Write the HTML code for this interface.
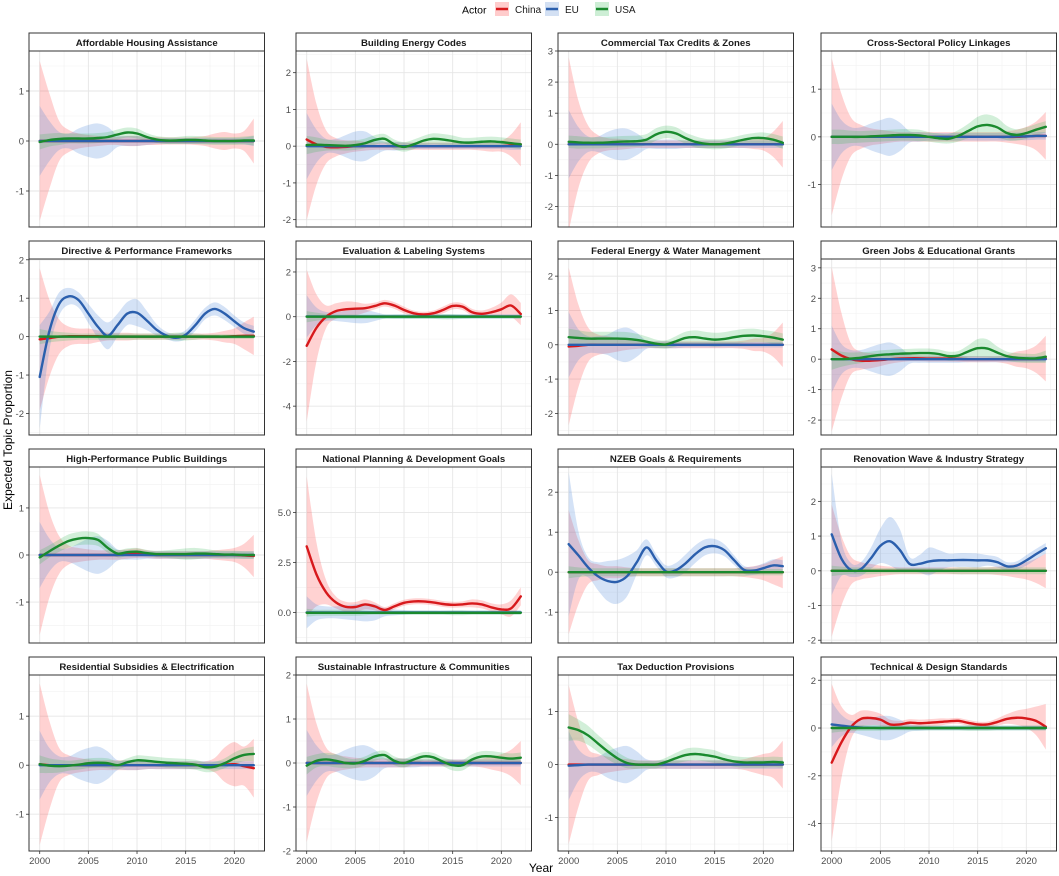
<!DOCTYPE html>
<html><head><meta charset="utf-8"><title>Expected Topic Proportion by Actor</title>
<style>
html,body{margin:0;padding:0;background:#fff;}
svg{display:block;font-family:"Liberation Sans",Arial,sans-serif;}
</style></head>
<body>
<svg id="chart" width="1059" height="876" viewBox="0 0 1059 876" xmlns="http://www.w3.org/2000/svg">
  <g>
    <text x="462" y="13.5" font-size="10.5" fill="#000">Actor</text>
    <g>
      <rect x="495" y="2" width="14" height="14" fill="#ffcccc"/>
      <line x1="496" y1="9" x2="508" y2="9" stroke="#d7191c" stroke-width="2.5"/>
      <text x="515" y="13" font-size="10" fill="#1a1a1a">China</text>
    </g>
    <g>
      <rect x="545" y="2" width="14" height="14" fill="#d3e0f3"/>
      <line x1="546" y1="9" x2="558" y2="9" stroke="#2b5fad" stroke-width="2.5"/>
      <text x="565" y="13" font-size="10" fill="#1a1a1a">EU</text>
    </g>
    <g>
      <rect x="595" y="2" width="14" height="14" fill="#cdeed5"/>
      <line x1="596" y1="9" x2="608" y2="9" stroke="#1a8a2e" stroke-width="2.5"/>
      <text x="615" y="13" font-size="10" fill="#1a1a1a">USA</text>
    </g>
  </g>
  <text x="0" y="0" font-size="12" fill="#000" text-anchor="middle" transform="translate(12,440) rotate(-90)">Expected Topic Proportion</text>
  <text x="541" y="872" font-size="12" fill="#000" text-anchor="middle">Year</text>
  <g id="panels"></g>
</svg>
<script>
const years = [2000,2001,2002,2003,2004,2005,2006,2007,2008,2009,2010,2011,2012,2013,2014,2015,2016,2017,2018,2019,2020,2021,2022];
const xTicks = [2000,2005,2010,2015,2020];
const titles = ["Affordable Housing Assistance","Building Energy Codes","Commercial Tax Credits & Zones","Cross-Sectoral Policy Linkages","Directive & Performance Frameworks","Evaluation & Labeling Systems","Federal Energy & Water Management","Green Jobs & Educational Grants","High-Performance Public Buildings","National Planning & Development Goals","NZEB Goals & Requirements","Renovation Wave & Industry Strategy","Residential Subsidies & Electrification","Sustainable Infrastructure & Communities","Tax Deduction Provisions","Technical & Design Standards"];
const yMin = [-1.72,-2.2,-2.66,-1.89,-2.56,-5.29,-2.63,-2.49,-1.87,-1.53,-1.77,-2.08,-1.75,-2.0,-1.63,-5.15];
const yMax = [1.8,2.59,3.0,1.8,2.02,2.58,2.5,3.29,1.87,7.27,2.63,2.99,1.84,2.0,1.69,2.22];
const yTicks = [[-1,0,1],[-2,-1,0,1,2],[-2,-1,0,1,2,3],[-1,0,1],[-2,-1,0,1,2],[-4,-2,0,2],[-2,-1,0,1,2],[-2,-1,0,1,2,3],[-1,0,1],[0,2.5,5],[-1,0,1,2],[-2,-1,0,1,2],[-1,0,1],[-2,-1,0,1,2],[-1,0,1],[-4,-2,0,2]];
const yTickLabels = [["-1","0","1"],["-2","-1","0","1","2"],["-2","-1","0","1","2","3"],["-1","0","1"],["-2","-1","0","1","2"],["-4","-2","0","2"],["-2","-1","0","1","2"],["-2","-1","0","1","2","3"],["-1","0","1"],["0.0","2.5","5.0"],["-1","0","1","2"],["-2","-1","0","1","2"],["-1","0","1"],["-2","-1","0","1","2"],["-1","0","1"],["-4","-2","0","2"]];

const Z = [0,0,0,0,0,0,0,0,0,0,0,0,0,0,0,0,0,0,0,0,0,0,0];
const chinaMean = [
 Z,
 [0.18,0.05,-0.02,-0.03,-0.02,0,0,0,0,0,0,0,0,0,0,0,0,0,0,0,0,0.02,0.05],
 Z,
 [0,0,0,0,0,0,0,0,0,0,0,0,0,0,0,0,0,0,0,0,0.01,0.02,0.02],
 [-0.07,-0.04,0,0.01,0.01,0.01,0.01,0,0,0,0,0,0,0,0,0,0,0,0,0,0.01,0.02,0.02],
 [-1.3,-0.5,0.0,0.25,0.33,0.36,0.38,0.48,0.6,0.5,0.3,0.15,0.1,0.15,0.3,0.48,0.45,0.2,0.13,0.2,0.33,0.5,0.12],
 [-0.05,-0.03,0,0,0,0,0,0,0,0,0,0,0,0,0,0,0,0,0,0,0,0,0],
 [0.32,0.12,0.0,-0.05,-0.05,-0.03,0,0.02,0.03,0.03,0.02,0.02,0.02,0.01,0,0,0,0,0,0,0,0,0.02],
 [0,0,0,0,0,0,0,0,0,0.02,0.04,0.02,0,0,0,0,0,0,0,0,0,-0.01,-0.02],
 [3.3,1.9,1.0,0.5,0.28,0.27,0.4,0.3,0.12,0.3,0.48,0.55,0.55,0.5,0.42,0.38,0.4,0.45,0.4,0.25,0.15,0.2,0.8],
 Z,
 Z,
 [0.02,0,0,0,0,0,0,0,0,0,0,0,0,0,0,0,0,0,0,0.01,0.02,-0.02,-0.06],
 Z,
 Z,
 [-1.45,-0.6,0.05,0.38,0.42,0.35,0.15,0.15,0.22,0.2,0.22,0.25,0.28,0.3,0.22,0.15,0.15,0.25,0.38,0.43,0.4,0.3,0.05]
];
const euMean = [
 Z, Z, Z,
 [0,0,0,0,0,0,0,0,0,0,0,0,0,0,0,0,0,0,0,0.01,0.01,0.02,0.02],
 [-1.05,0.15,0.85,1.05,0.95,0.6,0.25,0.02,0.3,0.6,0.62,0.42,0.18,0.03,-0.03,0.05,0.3,0.6,0.72,0.6,0.4,0.22,0.13],
 [0.01,0.01,0.01,0.01,0.01,0.01,0.01,0.01,0.01,0.01,0.01,0.01,0.01,0.01,0.01,0.01,0.01,0.01,0.01,0.01,0.01,0.01,0.01],
 Z, Z, Z, Z,
 [0.7,0.42,0.12,-0.1,-0.22,-0.24,-0.1,0.25,0.62,0.3,0.02,0.05,0.22,0.45,0.62,0.65,0.55,0.3,0.06,0.04,0.1,0.17,0.15],
 [1.05,0.35,0.02,0.05,0.35,0.72,0.85,0.6,0.2,0.2,0.27,0.3,0.3,0.31,0.31,0.3,0.3,0.25,0.13,0.15,0.3,0.48,0.65],
 Z, Z,
 [-0.02,-0.01,0,0,0,0,0,0,0,0,0,0,0,0,0,0,0,0,0,0,0,0,0],
 [0.15,0.1,0.05,0.02,0.01,0,0,0,0,0,0,0,0,0,0,0,0,0,0,0,0,0,0]
];
const usaMean = [
 [-0.02,0.02,0.04,0.05,0.05,0.05,0.06,0.08,0.13,0.17,0.15,0.08,0.03,0.01,0.01,0.02,0.02,0.01,0.0,0.0,0.0,0.01,0.01],
 [0.03,0.04,0.03,0.02,0.01,0.03,0.08,0.17,0.2,0.05,-0.02,0.05,0.15,0.2,0.18,0.14,0.1,0.1,0.12,0.13,0.11,0.08,0.05],
 [0.08,0.06,0.05,0.05,0.06,0.08,0.09,0.1,0.15,0.32,0.4,0.35,0.2,0.08,0.02,0.0,0.02,0.08,0.15,0.2,0.2,0.15,0.05],
 [0,0,0,0,0.01,0.02,0.03,0.04,0.04,0.03,0.0,-0.03,-0.04,0.02,0.12,0.22,0.25,0.2,0.08,0.04,0.08,0.15,0.21],
 Z, Z,
 [0.22,0.2,0.18,0.18,0.18,0.18,0.17,0.14,0.09,0.03,0.01,0.1,0.2,0.22,0.18,0.15,0.17,0.22,0.26,0.27,0.25,0.21,0.15],
 [0,0,0.02,0.05,0.1,0.14,0.16,0.18,0.19,0.2,0.2,0.17,0.1,0.12,0.25,0.36,0.35,0.22,0.1,0.05,0.03,0.03,0.08],
 [-0.05,0.08,0.2,0.3,0.35,0.36,0.32,0.15,0.03,0.06,0.07,0.04,0.02,0.02,0.02,0.02,0.03,0.03,0.02,0.01,0.01,0,0],
 [-0.02,-0.02,-0.02,-0.02,-0.02,-0.02,-0.02,-0.02,-0.02,-0.02,-0.02,-0.02,-0.02,-0.02,-0.02,-0.02,-0.02,-0.02,-0.02,-0.02,-0.02,-0.02,-0.02],
 Z, Z,
 [0.02,-0.01,-0.02,-0.01,0.01,0.04,0.05,0.04,0.0,0.06,0.1,0.09,0.07,0.05,0.04,0.03,0.01,-0.04,-0.03,0.04,0.14,0.21,0.23],
 [-0.06,0.05,0.08,0.05,0.0,-0.01,0.05,0.15,0.18,0.05,0.0,0.08,0.15,0.13,0.03,-0.05,-0.05,0.08,0.15,0.15,0.12,0.1,0.12],
 [0.7,0.65,0.55,0.4,0.25,0.12,0.03,0.0,0.0,0.0,0.05,0.12,0.18,0.2,0.18,0.15,0.1,0.06,0.04,0.04,0.04,0.05,0.04],
 Z
];
const chinaCI = [
 [1.6,0.95,0.4,0.22,0.15,0.12,0.1,0.08,0.08,0.1,0.1,0.08,0.08,0.07,0.07,0.07,0.08,0.1,0.15,0.18,0.15,0.2,0.45],
 [2.2,1.1,0.45,0.25,0.18,0.15,0.12,0.1,0.1,0.1,0.1,0.1,0.1,0.1,0.1,0.1,0.1,0.1,0.12,0.15,0.15,0.3,0.6],
 [2.8,1.4,0.6,0.3,0.2,0.18,0.15,0.12,0.12,0.12,0.12,0.12,0.12,0.12,0.12,0.12,0.12,0.12,0.12,0.15,0.2,0.4,0.75],
 [1.65,0.9,0.4,0.25,0.18,0.15,0.12,0.1,0.1,0.1,0.1,0.1,0.1,0.1,0.1,0.1,0.1,0.1,0.12,0.15,0.2,0.3,0.5],
 [1.85,1.0,0.45,0.25,0.2,0.2,0.15,0.1,0.1,0.1,0.08,0.08,0.08,0.08,0.08,0.08,0.08,0.08,0.1,0.15,0.2,0.35,0.5],
 [3.4,1.5,0.5,0.35,0.35,0.3,0.2,0.15,0.15,0.15,0.15,0.12,0.12,0.12,0.15,0.15,0.15,0.15,0.15,0.2,0.3,0.5,0.5],
 [2.3,1.2,0.5,0.3,0.25,0.2,0.15,0.12,0.1,0.1,0.1,0.1,0.1,0.1,0.1,0.1,0.1,0.1,0.12,0.18,0.2,0.35,0.65],
 [2.7,1.4,0.5,0.3,0.25,0.2,0.15,0.12,0.1,0.1,0.1,0.1,0.1,0.1,0.1,0.1,0.1,0.1,0.15,0.25,0.3,0.45,0.75],
 [1.7,0.9,0.4,0.2,0.15,0.12,0.1,0.1,0.1,0.1,0.1,0.08,0.08,0.08,0.08,0.08,0.08,0.08,0.1,0.12,0.15,0.25,0.45],
 [3.5,1.6,0.6,0.3,0.25,0.25,0.25,0.2,0.15,0.15,0.15,0.15,0.15,0.15,0.15,0.15,0.15,0.2,0.2,0.2,0.25,0.4,0.45],
 [1.55,0.8,0.3,0.2,0.15,0.15,0.12,0.1,0.1,0.1,0.1,0.1,0.1,0.1,0.1,0.1,0.1,0.1,0.12,0.15,0.2,0.3,0.4],
 [1.9,1.0,0.4,0.25,0.2,0.15,0.12,0.1,0.1,0.1,0.1,0.1,0.1,0.1,0.1,0.1,0.1,0.12,0.15,0.2,0.25,0.35,0.5],
 [1.65,0.9,0.35,0.2,0.15,0.12,0.1,0.1,0.1,0.1,0.1,0.08,0.08,0.08,0.08,0.08,0.08,0.08,0.15,0.35,0.45,0.4,0.6],
 [1.8,0.9,0.35,0.2,0.15,0.12,0.1,0.1,0.1,0.1,0.1,0.08,0.08,0.08,0.08,0.08,0.08,0.08,0.1,0.15,0.2,0.3,0.5],
 [1.5,0.8,0.3,0.2,0.15,0.12,0.1,0.08,0.08,0.08,0.08,0.08,0.08,0.08,0.08,0.08,0.08,0.08,0.1,0.15,0.2,0.25,0.45],
 [3.3,1.5,0.5,0.35,0.3,0.25,0.2,0.15,0.15,0.15,0.15,0.15,0.12,0.12,0.12,0.12,0.12,0.15,0.2,0.3,0.4,0.6,0.95]
];
const euCI = [
 [0.7,0.4,0.18,0.15,0.25,0.32,0.35,0.28,0.12,0.1,0.1,0.08,0.06,0.06,0.06,0.06,0.06,0.06,0.06,0.06,0.06,0.07,0.1],
 [0.9,0.45,0.2,0.2,0.3,0.4,0.4,0.25,0.12,0.12,0.1,0.08,0.08,0.08,0.08,0.08,0.08,0.08,0.08,0.08,0.08,0.1,0.1],
 [1.1,0.55,0.25,0.25,0.4,0.5,0.5,0.35,0.15,0.15,0.15,0.15,0.12,0.12,0.12,0.12,0.12,0.12,0.12,0.12,0.12,0.12,0.12],
 [0.7,0.35,0.2,0.2,0.28,0.35,0.4,0.3,0.12,0.1,0.08,0.08,0.08,0.08,0.08,0.08,0.08,0.08,0.08,0.08,0.08,0.08,0.08],
 [1.35,0.5,0.3,0.22,0.2,0.25,0.3,0.35,0.3,0.3,0.35,0.25,0.15,0.1,0.1,0.12,0.15,0.15,0.17,0.17,0.15,0.15,0.15],
 [0.95,0.4,0.2,0.2,0.25,0.3,0.3,0.2,0.1,0.1,0.1,0.1,0.1,0.1,0.1,0.1,0.1,0.1,0.1,0.1,0.1,0.1,0.1],
 [0.95,0.45,0.25,0.25,0.3,0.45,0.5,0.35,0.12,0.1,0.1,0.1,0.08,0.08,0.08,0.08,0.08,0.08,0.08,0.08,0.08,0.08,0.08],
 [1.1,0.5,0.3,0.3,0.4,0.5,0.55,0.4,0.15,0.12,0.12,0.12,0.12,0.12,0.1,0.1,0.1,0.1,0.1,0.1,0.1,0.1,0.1],
 [0.7,0.35,0.15,0.15,0.25,0.35,0.4,0.3,0.12,0.1,0.1,0.08,0.08,0.08,0.08,0.08,0.08,0.08,0.08,0.08,0.08,0.08,0.08],
 [0.8,0.4,0.3,0.3,0.35,0.4,0.45,0.4,0.2,0.15,0.12,0.1,0.1,0.1,0.1,0.1,0.1,0.1,0.1,0.1,0.1,0.1,0.1],
 [1.8,0.6,0.25,0.35,0.5,0.55,0.5,0.3,0.2,0.15,0.15,0.18,0.22,0.22,0.2,0.18,0.15,0.12,0.1,0.1,0.12,0.15,0.15],
 [1.75,0.5,0.2,0.2,0.3,0.5,0.7,0.6,0.2,0.25,0.4,0.3,0.2,0.2,0.2,0.2,0.15,0.15,0.12,0.12,0.15,0.15,0.15],
 [0.7,0.35,0.18,0.18,0.28,0.35,0.38,0.28,0.1,0.1,0.1,0.08,0.08,0.08,0.08,0.08,0.08,0.08,0.08,0.08,0.08,0.08,0.08],
 [0.75,0.4,0.2,0.2,0.3,0.38,0.4,0.3,0.12,0.1,0.1,0.1,0.08,0.08,0.08,0.08,0.08,0.08,0.08,0.08,0.08,0.08,0.08],
 [0.65,0.3,0.15,0.15,0.25,0.32,0.35,0.25,0.1,0.08,0.08,0.08,0.08,0.08,0.08,0.08,0.08,0.08,0.08,0.08,0.08,0.08,0.08],
 [0.95,0.45,0.25,0.3,0.4,0.5,0.5,0.35,0.15,0.12,0.1,0.1,0.1,0.1,0.1,0.1,0.1,0.1,0.1,0.1,0.1,0.1,0.1]
];
const usaCI = [
 [0.15,0.13,0.12,0.1,0.1,0.1,0.1,0.1,0.1,0.1,0.1,0.08,0.07,0.07,0.07,0.08,0.08,0.08,0.08,0.08,0.08,0.08,0.1],
 [0.25,0.2,0.15,0.13,0.13,0.13,0.13,0.13,0.13,0.13,0.13,0.13,0.13,0.15,0.15,0.15,0.13,0.13,0.13,0.13,0.13,0.13,0.13],
 [0.2,0.2,0.18,0.18,0.18,0.18,0.18,0.18,0.18,0.2,0.2,0.2,0.18,0.18,0.16,0.16,0.16,0.16,0.16,0.16,0.18,0.18,0.2],
 [0.15,0.15,0.13,0.12,0.12,0.12,0.12,0.12,0.12,0.12,0.1,0.1,0.1,0.12,0.15,0.2,0.22,0.2,0.15,0.12,0.12,0.12,0.12],
 [0.2,0.15,0.12,0.1,0.08,0.08,0.08,0.08,0.08,0.08,0.08,0.08,0.08,0.08,0.1,0.1,0.08,0.06,0.06,0.06,0.06,0.06,0.06],
 [0.25,0.18,0.12,0.1,0.1,0.1,0.1,0.1,0.1,0.1,0.1,0.1,0.1,0.1,0.12,0.12,0.1,0.08,0.08,0.08,0.08,0.08,0.08],
 [0.25,0.22,0.2,0.2,0.2,0.2,0.2,0.18,0.15,0.12,0.12,0.15,0.18,0.2,0.2,0.2,0.2,0.2,0.2,0.2,0.18,0.18,0.18],
 [0.35,0.25,0.2,0.18,0.15,0.15,0.15,0.15,0.15,0.15,0.15,0.15,0.15,0.15,0.2,0.3,0.3,0.2,0.15,0.15,0.15,0.15,0.2],
 [0.15,0.13,0.13,0.14,0.14,0.14,0.13,0.1,0.08,0.08,0.08,0.07,0.07,0.08,0.1,0.12,0.12,0.1,0.08,0.08,0.08,0.08,0.08],
 [0.2,0.15,0.15,0.15,0.15,0.15,0.12,0.1,0.1,0.1,0.1,0.1,0.1,0.1,0.1,0.12,0.12,0.1,0.1,0.1,0.1,0.1,0.1],
 [0.15,0.12,0.1,0.1,0.1,0.1,0.1,0.1,0.1,0.1,0.1,0.1,0.1,0.1,0.1,0.1,0.1,0.1,0.1,0.08,0.08,0.08,0.08],
 [0.15,0.12,0.1,0.1,0.1,0.08,0.08,0.08,0.08,0.08,0.08,0.08,0.08,0.1,0.1,0.1,0.1,0.1,0.1,0.1,0.1,0.1,0.1],
 [0.18,0.15,0.13,0.1,0.1,0.1,0.1,0.1,0.08,0.08,0.1,0.1,0.1,0.1,0.1,0.1,0.1,0.1,0.1,0.1,0.12,0.13,0.15],
 [0.2,0.15,0.15,0.15,0.12,0.1,0.1,0.1,0.1,0.1,0.1,0.1,0.1,0.1,0.1,0.12,0.12,0.12,0.12,0.12,0.12,0.12,0.12],
 [0.25,0.2,0.18,0.16,0.15,0.12,0.1,0.08,0.07,0.07,0.08,0.1,0.12,0.12,0.12,0.12,0.1,0.1,0.1,0.1,0.1,0.1,0.1],
 [0.2,0.15,0.12,0.12,0.12,0.12,0.1,0.1,0.1,0.1,0.1,0.1,0.1,0.1,0.12,0.12,0.12,0.1,0.1,0.1,0.1,0.1,0.1]
];

const NS = "http://www.w3.org/2000/svg";
const colLeft = [29, 296, 558, 821];
const rowTop = [33, 241, 449, 657];
const PW = 235.5, STRIP = 18, PLOT_H = 176;
const X0 = 1998.9, X1 = 2023.1;
const root = document.getElementById('panels');

function mk(tag, attrs, parent) {
  const e = document.createElementNS(NS, tag);
  for (const k in attrs) e.setAttribute(k, attrs[k]);
  if (parent) parent.appendChild(e);
  return e;
}
function splinePath(pts, moveFirst) {
  let d = (moveFirst ? 'M' : 'L') + pts[0][0].toFixed(2) + ',' + pts[0][1].toFixed(2);
  for (let i = 0; i < pts.length - 1; i++) {
    const p0 = pts[Math.max(0, i - 1)], p1 = pts[i], p2 = pts[i + 1], p3 = pts[Math.min(pts.length - 1, i + 2)];
    const c1x = p1[0] + (p2[0] - p0[0]) / 6, c1y = p1[1] + (p2[1] - p0[1]) / 6;
    const c2x = p2[0] - (p3[0] - p1[0]) / 6, c2y = p2[1] - (p3[1] - p1[1]) / 6;
    d += 'C' + c1x.toFixed(2) + ',' + c1y.toFixed(2) + ' ' + c2x.toFixed(2) + ',' + c2y.toFixed(2) + ' ' + p2[0].toFixed(2) + ',' + p2[1].toFixed(2);
  }
  return d;
}

const series = [
  {key: 'china', mean: chinaMean, ci: chinaCI, line: '#d7191c', fill: '#ff3030', op: 0.22},
  {key: 'eu', mean: euMean, ci: euCI, line: '#2b5fad', fill: '#4a86d8', op: 0.24},
  {key: 'usa', mean: usaMean, ci: usaCI, line: '#1a8a2e', fill: '#30b850', op: 0.22}
];

for (let p = 0; p < 16; p++) {
  const col = p % 4, row = Math.floor(p / 4);
  const L = colLeft[col], T = rowTop[row];
  const pt = T + STRIP, pb = pt + PLOT_H;
  const xs = v => L + (v - X0) / (X1 - X0) * PW;
  const ys = v => pb - (v - yMin[p]) / (yMax[p] - yMin[p]) * PLOT_H;

  const g = mk('g', {}, root);
  
  

  const clipId = 'clip' + p;
  const cp = mk('clipPath', {id: clipId}, g);
  mk('rect', {x: L, y: pt, width: PW, height: PLOT_H}, cp);

  mk('rect', {x: L, y: pt, width: PW, height: PLOT_H, fill: '#fff'}, g);

  const grid = mk('g', {'clip-path': 'url(#' + clipId + ')'}, g);
  
  
  const tk = yTicks[p];
  const step = tk[1] - tk[0];
  for (let v = tk[0] - step / 2; v <= yMax[p]; v += step) {
    if (v >= yMin[p]) mk('line', {x1: L, x2: L + PW, y1: ys(v), y2: ys(v), stroke: '#f2f2f2', 'stroke-width': 0.6}, grid);
  }
  for (let v = 2002.5; v < X1; v += 5) mk('line', {x1: xs(v), x2: xs(v), y1: pt, y2: pb, stroke: '#f2f2f2', 'stroke-width': 0.6}, grid);
  tk.forEach(v => mk('line', {x1: L, x2: L + PW, y1: ys(v), y2: ys(v), stroke: '#e6e6e6', 'stroke-width': 0.9}, grid));
  xTicks.forEach(v => mk('line', {x1: xs(v), x2: xs(v), y1: pt, y2: pb, stroke: '#e6e6e6', 'stroke-width': 0.9}, grid));

  const rg = mk('g', {'clip-path': 'url(#' + clipId + ')'}, g);
  series.forEach(s => {
    const up = years.map((y, i) => [xs(y), ys(s.mean[p][i] + s.ci[p][i])]);
    const lo = years.map((y, i) => [xs(y), ys(s.mean[p][i] - s.ci[p][i])]).reverse();
    const r = mk('path', {d: splinePath(up, true) + splinePath(lo, false) + 'Z', fill: s.fill, 'fill-opacity': s.op, stroke: 'none'}, rg);
    
    
  });
  series.forEach(s => {
    const pts = years.map((y, i) => [xs(y), ys(s.mean[p][i])]);
    const ln = mk('path', {d: splinePath(pts, true), fill: 'none', stroke: s.line, 'stroke-width': 2.4, 'stroke-linecap': 'round', 'stroke-linejoin': 'round'}, rg);
    
    
  });

  mk('rect', {x: L, y: pt, width: PW, height: PLOT_H, fill: 'none', stroke: '#333', 'stroke-width': 1}, g);
  const strip = mk('g', {}, g);
  
  
  mk('rect', {x: L, y: T, width: PW, height: STRIP, fill: '#fff', stroke: '#333', 'stroke-width': 1}, strip);
  const st = mk('text', {x: L + PW / 2, y: T + 12.8, 'font-size': 9.6, 'font-weight': 'bold', 'text-anchor': 'middle', fill: '#1a1a1a'}, strip);
  st.textContent = titles[p];

  const yax = mk('g', {}, g);
  
  
  tk.forEach((v, i) => {
    mk('line', {x1: L - 3, x2: L, y1: ys(v), y2: ys(v), stroke: '#333', 'stroke-width': 0.8}, yax);
    const t = mk('text', {x: L - 5, y: ys(v) + 3.5, 'font-size': 9.5, 'text-anchor': 'end', fill: '#4d4d4d'}, yax);
    t.textContent = yTickLabels[p][i];
  });
  if (row === 3) {
    const xax = mk('g', {}, g);
    
    
    xTicks.forEach(v => {
      mk('line', {x1: xs(v), x2: xs(v), y1: pb, y2: pb + 3, stroke: '#333', 'stroke-width': 0.8}, xax);
      const t = mk('text', {x: xs(v), y: pb + 13, 'font-size': 9.5, 'text-anchor': 'middle', fill: '#4d4d4d'}, xax);
      t.textContent = String(v);
    });
  }
}
</script>
</body></html>
